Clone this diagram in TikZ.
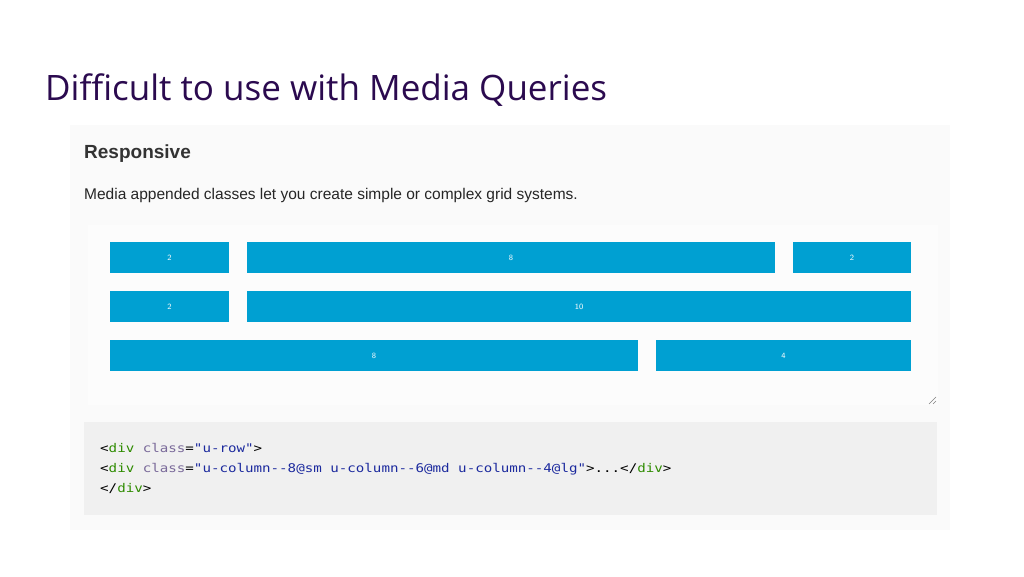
\documentclass[tikz,border=0pt]{standalone}
\usepackage{fontspec}
\setmainfont{Liberation Sans}
\newfontfamily\titlefont{Open Sans}
\newfontfamily\codefont[FakeStretch=1.18]{DejaVu Sans Mono}
\definecolor{titlec}{HTML}{2B0A4F}
\definecolor{barc}{HTML}{00A0D2}
\definecolor{tagc}{HTML}{2E8B00}
\definecolor{attc}{HTML}{7A6A9A}
\definecolor{strc}{HTML}{1C2A9E}
\begin{document}
\begin{tikzpicture}[x=1pt,y=-1pt,
  bar/.style={fill=barc,draw=none},
  barlab/.style={text=white,font=\fontsize{8}{9}\selectfont\sffamily},
  code/.style={anchor=base west,inner sep=0,font=\codefont\fontsize{12}{14}\selectfont}]
\useasboundingbox (0,0) rectangle (1024,576);
\fill[white] (0,0) rectangle (1024,576);
\node[anchor=base west,inner sep=0,text=titlec,font=\titlefont\fontsize{35}{40}\selectfont] (title) at (45,100) {Difficult to use with Media Queries};
\fill[black!2] (70,125) rectangle (950,530);
\fill[black!1] (88,225) rectangle (938,405);
\fill[black!6] (84,422) rectangle (937,515);
\node[anchor=base west,inner sep=0,font=\bfseries\fontsize{19}{22}\selectfont,text=black!80] (h) at (84,158) {Responsive};
\node[anchor=base west,inner sep=0,font=\fontsize{15.5}{18}\selectfont,text=black!85] (p) at (84,199) {Media appended classes let you create simple or complex grid systems.};
\foreach \x/\y/\X/\Y/\t/\n in {110/242/229/273/2/a,247/242/775/273/8/b,793/242/911/273/2/c,110/291/229/322/2/d,247/291/911/322/10/e,110/340/638/371/8/f,656/340/911/371/4/g}{
  \fill[barc] (\x,\y) rectangle (\X,\Y);
  \node[barlab] (bar\n) at ({(\x+\X)/2},{(\y+\Y)/2}) {\t};
}
\draw[black!50,line width=0.5pt] (929,404) -- (936,397) (933,404) -- (936,401);
\node[code] (c1) at (100,452) {<\textcolor{tagc}{div} \textcolor{attc}{class}=\textcolor{strc}{"u-row"}>};
\node[code] (c2) at (100,472) {<\textcolor{tagc}{div} \textcolor{attc}{class}=\textcolor{strc}{"u-column-{}-8@sm u-column-{}-6@md u-column-{}-4@lg"}>...</\textcolor{tagc}{div}>};
\node[code] (c3) at (100,492) {</\textcolor{tagc}{div}>};
\end{tikzpicture}
\end{document}
